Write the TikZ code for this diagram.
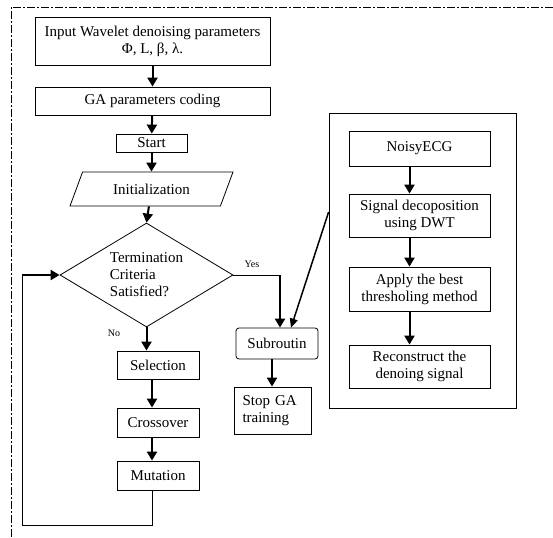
\documentclass[tikz,border=0pt]{standalone}
\usepackage{fontspec}
\setmainfont{Liberation Serif}
\usetikzlibrary{shapes.geometric,arrows.meta}

\begin{document}
\begin{tikzpicture}[x=1pt, y=-1pt,
	every node/.style={font=\fontsize{15}{17}\selectfont, inner sep=0pt},
	box/.style={draw, line width=0.8pt, rectangle, align=center},
	arr/.style={line width=2pt, -{Triangle[width=10pt,length=9pt]}},
	thin/.style={line width=0.8pt},
	small/.style={font=\fontsize{10}{12}\selectfont}]

	\useasboundingbox (0,0) rectangle (553,537);
	\draw[line width=0.8pt, dash pattern=on 8pt off 2pt on 2pt off 2pt] (11,537) -- (11,7) -- (553,7);

	% main flow
	\node[box, minimum width=235pt, minimum height=48pt] (inp) at (152.5,41) {Input Wavelet denoising parameters\\Φ, L, β, λ.};
	\node[box, minimum width=235pt, minimum height=28pt] (coding) at (152.5,101) {GA parameters coding};
	\node[box, minimum width=71pt, minimum height=18pt] (start) at (151.5,143) {Start};
	\node[draw, line width=0.8pt, trapezium, trapezium left angle=40, trapezium right angle=140,
		trapezium stretches body, minimum width=163pt, minimum height=34pt] (init) at (151.5,189) {Initialization};
	\node[draw, line width=0.8pt, diamond, shape aspect=1.7, align=left,
		minimum width=173pt, minimum height=104pt] (cond) at (146.5,275) {Termination\\Criteria\\Satisfied?};
	\node[box, minimum width=82pt, minimum height=28pt] (sel) at (158,365) {Selection};
	\node[box, minimum width=82pt, minimum height=29pt] (cross) at (158,422.5) {Crossover};
	\node[box, minimum width=82pt, minimum height=29pt] (mut) at (158,475.5) {Mutation};

	\node[box, rounded corners=3pt, minimum width=82pt, minimum height=31pt] (subr) at (277,343.5) {Subroutin};
	\node[box, align=left, minimum width=77pt, minimum height=47pt, text width=61pt] (stop) at (273,410.5) {Stop GA\\training};

	\node[small] (yes) at (252,264) {Yes};
	\node[small] (no) at (114,333) {No};

	% subroutine
	\node[box, minimum width=187pt, minimum height=295pt] (grp) at (422.5,260.5) {};
	\node[box, minimum width=141pt, minimum height=35pt] (ecg) at (419.5,148.5) {NoisyECG};
	\node[box, minimum width=141pt, minimum height=43pt] (dec) at (419.5,215.5) {Signal decoposition\\using DWT};
	\node[box, minimum width=141pt, minimum height=44pt] (thr) at (419.5,289) {Apply the best\\thresholing method};
	\node[box, minimum width=141pt, minimum height=43pt] (rec) at (419.5,366.5) {Reconstruct the\\denoing signal};

	\draw[arr] (inp) -- (coding);
	\draw[arr] (coding) -- (start);
	\draw[arr] (start) -- (init);
	\draw[arr] (init) -- (cond.north);
	\draw[arr] (cond.south) -- (cond.south |- sel.north);
	\draw[arr] ([xshift=-6pt]sel.south) -- ([xshift=-6pt]cross.north);
	\draw[arr] ([xshift=-6pt]cross.south) -- ([xshift=-6pt]mut.north);

	\coordinate (yc) at (280,275);
	\draw[thin] (cond.east) -- (yc);
	\draw[arr] (yc) -- (yc |- subr.north);
	\draw[arr] ([xshift=-5pt]subr.south) -- ([xshift=-5pt]subr.south |- stop.north);

	\coordinate (l1) at (152,525);
	\coordinate (l2) at (22,525);
	\coordinate (l3) at (22,275);
	\draw[thin] ([xshift=-6pt]mut.south) -- (l1) -- (l2) -- (l3);
	\draw[arr] (l3) -- (cond.west);

	\draw[arr] ([xshift=-10pt]ecg.south) -- ([xshift=-10pt]dec.north);
	\draw[arr] ([xshift=-10pt]dec.south) -- ([xshift=-10pt]thr.north);
	\draw[arr] ([xshift=-10pt]thr.south) -- ([xshift=-10pt]rec.north);
	\draw[line width=1.5pt, -{Triangle[width=8pt,length=9pt]}] (grp.west |- 0,212) -- ([xshift=14pt]subr.north);

\end{tikzpicture}
\end{document}
